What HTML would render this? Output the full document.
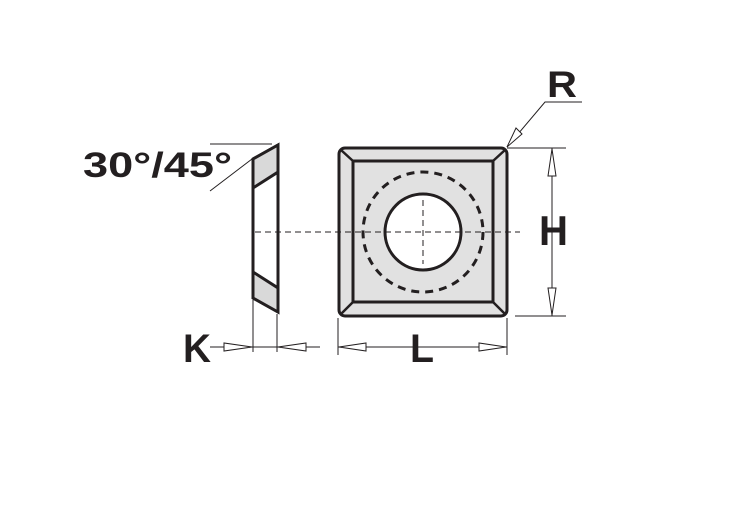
<!DOCTYPE html>
<html><head><style>body{margin:0;background:#fff}svg{display:block}</style></head><body>
<svg width="729" height="509" viewBox="0 0 729 509" xmlns="http://www.w3.org/2000/svg">
<g font-family="Liberation Sans, sans-serif" font-weight="bold" fill="#231f20">
<text x="83" y="177" font-size="35" textLength="149" lengthAdjust="spacingAndGlyphs">30°/45°</text>
<text x="539" y="245" font-size="42" textLength="29" lengthAdjust="spacingAndGlyphs">H</text>
<text x="410" y="362" font-size="40" textLength="24" lengthAdjust="spacingAndGlyphs">L</text>
<text x="183" y="362" font-size="40" textLength="28" lengthAdjust="spacingAndGlyphs">K</text>
<text x="547" y="97" font-size="37" textLength="30" lengthAdjust="spacingAndGlyphs">R</text>
</g>
<g stroke="#231f20" fill="none">
<rect x="339" y="148" width="168" height="168" rx="6" fill="#e1e1e1" stroke-width="3"/>
<rect x="353" y="161" width="140" height="141" fill="#e1e1e1" stroke-width="3"/>
<path d="M341 150L353 161M505 150L493 161M341 314L353 302M505 314L493 302" stroke-width="2.5"/>
<circle cx="423" cy="232" r="60" stroke-width="3" stroke-dasharray="8,6"/>
<circle cx="423" cy="232" r="38" fill="#fff" stroke-width="3"/>
<path d="M253 159L278 145L278 312L253 298Z" fill="#fff" stroke-width="3"/>
<path d="M253 159L278 145L278 172L253 188Z" fill="#d9d9d9" stroke-width="3"/>
<path d="M253 272L278 288L278 312L253 298Z" fill="#d9d9d9" stroke-width="3"/>
<path d="M255 232H520M423 200V264" stroke-width="1" stroke-dasharray="6,4"/>
<g stroke-width="1">
<path d="M210 144H272M210 191L252 159"/>
<path d="M507 147L545 102H582"/>
<path d="M507 148H566M515 316H566M552 148V316"/>
<path d="M338 318V355M507 318V355M338 347H507"/>
<path d="M253 300V352M277 314V352M210 347H320"/>
<path d="M507 147L516 128L522 134Z" fill="#fff"/>
<path d="M552 149L548 176H556Z" fill="#fff"/>
<path d="M552 315L548 288H556Z" fill="#fff"/>
<path d="M339 347L366 343V351Z" fill="#fff"/>
<path d="M506 347L479 343V351Z" fill="#fff"/>
<path d="M252 347L224 343V351Z" fill="#fff"/>
<path d="M278 347L306 343V351Z" fill="#fff"/>
</g>
</g>
</svg>
</body></html>
